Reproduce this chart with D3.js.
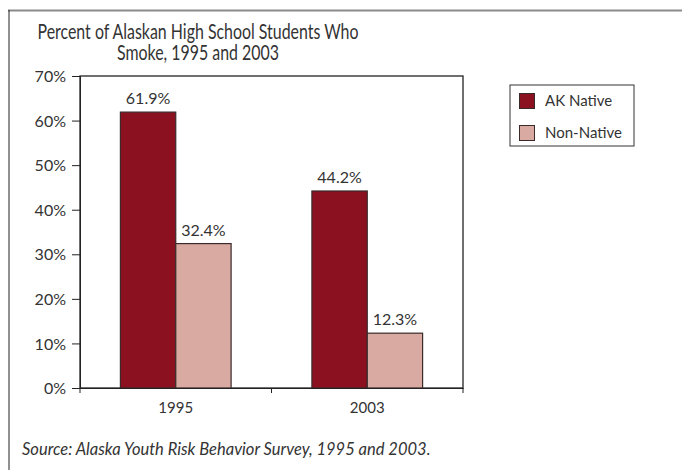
<!DOCTYPE html>
<html><head><meta charset="utf-8">
<script src="https://cdn.jsdelivr.net/npm/d3@7"></script>
<style>
html,body{margin:0;padding:0;background:#fff;}
text{font-family:Lato,"Noto Sans",sans-serif;fill:#333;}
</style></head>
<body><svg id="c" width="682" height="470"></svg>
<script>
const categories = ["1995", "2003"];
const seriesNames = ["AK Native", "Non-Native"];
const akNative = [61.9, 44.2];
const nonNative = [32.4, 12.3];
const yTicks = [0, 10, 20, 30, 40, 50, 60, 70];
const colors = ["#8b1120", "#d8aaa2"];
const titleLines = ["Percent of Alaskan High School Students Who", "Smoke, 1995 and 2003"];
const titleWidths = [321, 162];
const source = "Source: Alaska Youth Risk Behavior Survey, 1995 and 2003.";

const FONT = "Lato";
const svg = d3.select("#c");
const m = {l: 80, r: 463, t: 76, b: 388};

// frame
svg.append("line").attr("x1", 8).attr("x2", 682).attr("y1", 10.5).attr("y2", 10.5).attr("stroke", "#8a8a8a").attr("stroke-width", 2);
svg.append("line").attr("x1", 9).attr("x2", 9).attr("y1", 10).attr("y2", 470).attr("stroke", "#222").attr("stroke-width", 1);

// title
svg.append("g").selectAll("text").data(titleLines).join("text")
  .attr("x", 198).attr("y", (d, i) => 39 + i * 20.5)
  .attr("text-anchor", "middle").attr("font-size", 21)
  .attr("textLength", (d, i) => titleWidths[i]).attr("lengthAdjust", "spacingAndGlyphs")
  .text(d => d);

const x0 = d3.scaleBand().domain(categories).range([m.l, m.r]).paddingInner(0).paddingOuter(0);
const x1 = d3.scaleBand().domain(seriesNames).range([0, x0.bandwidth()]).paddingInner(0).paddingOuter(0.73);
const y = d3.scaleLinear().domain([0, 70]).range([m.b, m.t]);

// plot frame
svg.append("rect").attr("x", m.l).attr("y", m.t).attr("width", m.r - m.l).attr("height", m.b - m.t)
  .attr("fill", "none").attr("stroke", "#222").attr("stroke-width", 1.3);

const rows = categories.map((c, i) => ({cat: c, vals: [akNative[i], nonNative[i]]}));
const g = svg.append("g");
rows.forEach(r => {
  r.vals.forEach((v, j) => {
    const bx = x0(r.cat) + x1(seriesNames[j]);
    g.append("rect").attr("x", bx).attr("y", y(v)).attr("width", x1.bandwidth()).attr("height", y(0) - y(v))
      .attr("fill", colors[j]).attr("stroke", "#3a2a2a").attr("stroke-width", 1.2);
    g.append("text").attr("x", bx + x1.bandwidth() / 2).attr("y", y(v) - 8)
      .attr("text-anchor", "middle").attr("font-size", 16).text(v.toFixed(1) + "%");
  });
});

// y axis
const ya = svg.append("g").attr("transform", `translate(${m.l},0)`)
  .call(d3.axisLeft(y).tickValues(yTicks).tickFormat(d => d + "%").tickSize(8).tickPadding(6));
ya.attr("font-family", FONT).attr("font-size", 16);
ya.select(".domain").attr("stroke", "#222");
ya.selectAll("line").attr("stroke", "#222");
ya.selectAll("text").attr("fill", "#333").attr("dy", "0.35em");

// x axis
const xa = svg.append("g").attr("transform", `translate(0,${m.b})`)
  .call(d3.axisBottom(x0).tickSize(0).tickPadding(14));
xa.attr("font-family", FONT).attr("font-size", 15);
xa.select(".domain").attr("stroke", "#222");
xa.selectAll("text").attr("fill", "#333");
const bounds = [m.l, x0("2003"), m.r];
xa.selectAll(".bt").data(bounds).join("line").attr("class", "bt")
  .attr("x1", d => d).attr("x2", d => d).attr("y1", 0).attr("y2", 5).attr("stroke", "#222");

// legend
const lg = svg.append("g");
lg.append("rect").attr("x", 510).attr("y", 85).attr("width", 124).attr("height", 61)
  .attr("fill", "#fff").attr("stroke", "#333").attr("stroke-width", 1);
seriesNames.forEach((s, i) => {
  lg.append("rect").attr("x", 519.5).attr("y", 93.5 + i * 32).attr("width", 15).attr("height", 15)
    .attr("fill", colors[i]).attr("stroke", "#3a2a2a").attr("stroke-width", 1);
  lg.append("text").attr("x", 545).attr("y", 106 + i * 32).attr("font-size", 15).text(s);
});

// source
svg.append("text").attr("x", 22).attr("y", 455).attr("font-size", 16.5).attr("font-style", "italic").text(source);
</script></body></html>
